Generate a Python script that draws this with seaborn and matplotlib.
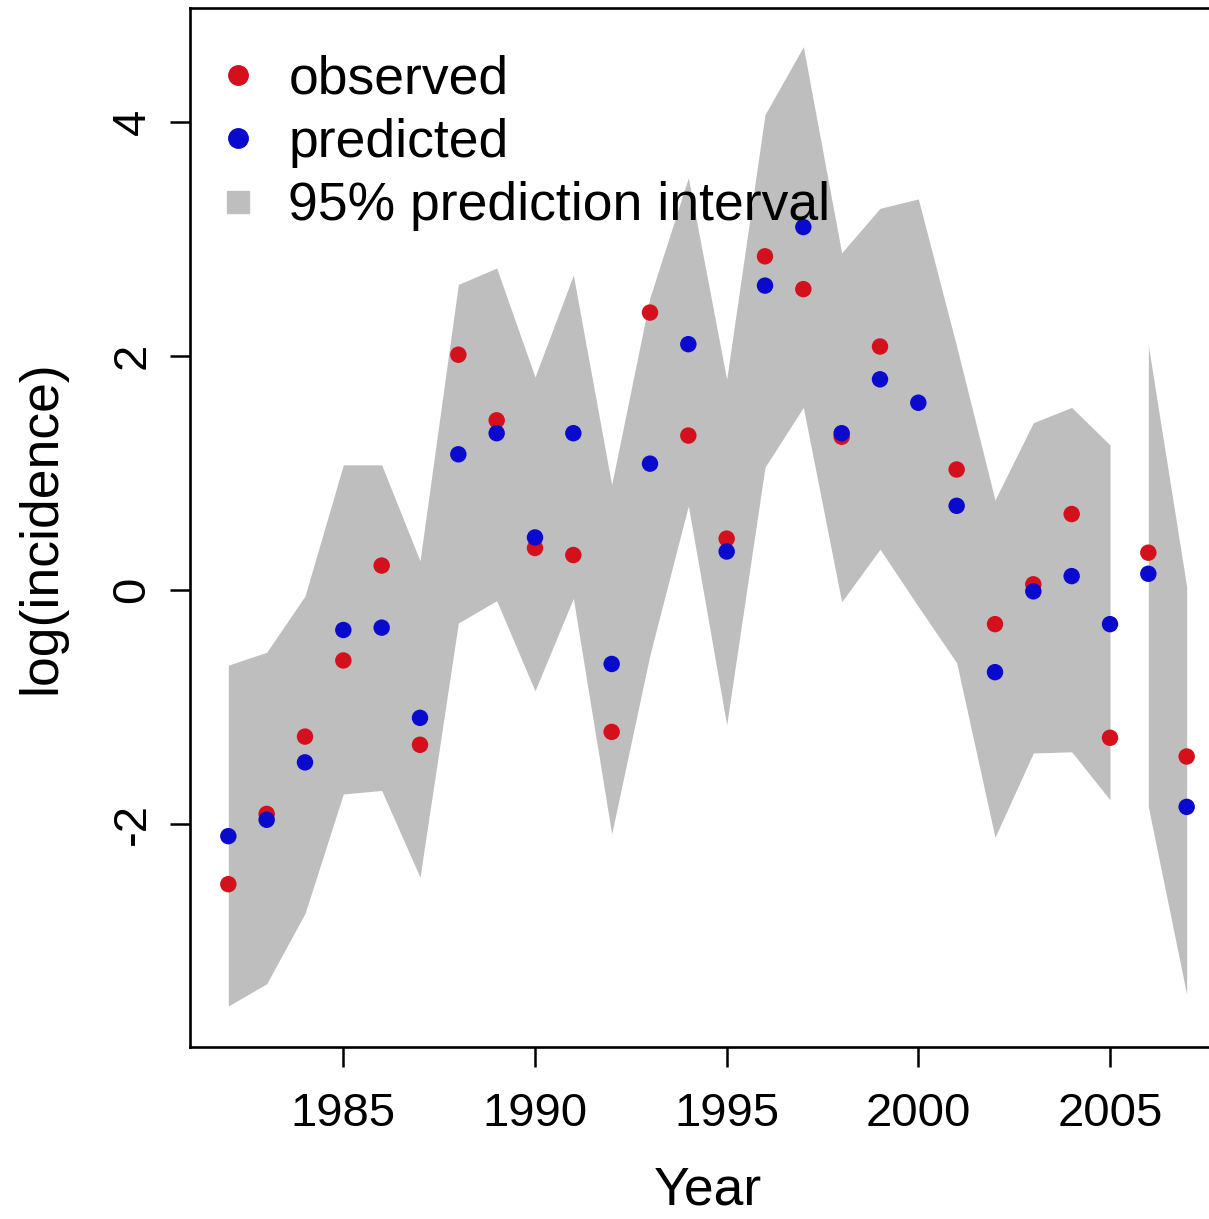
import numpy as np
import pandas as pd
import matplotlib
matplotlib.use("Agg")
import matplotlib.pyplot as plt
import seaborn as sns
from matplotlib.lines import Line2D

# ---- data ----
years = [1982, 1983, 1984, 1985, 1986, 1987, 1988, 1989, 1990, 1991, 1992, 1993, 1994,
         1995, 1996, 1997, 1998, 1999, 2000, 2001, 2002, 2003, 2004, 2005, 2006, 2007]
observed = [-2.51, -1.91, -1.25, -0.60, 0.21, -1.32, 2.01, 1.45, 0.36, 0.30, -1.21, 2.37, 1.32,
            0.44, 2.85, 2.57, 1.31, 2.08, np.nan, 1.03, -0.29, 0.05, 0.65, -1.26, 0.32, -1.42]
predicted = [-2.10, -1.96, -1.47, -0.34, -0.32, -1.09, 1.16, 1.34, 0.45, 1.34, -0.63, 1.08, 2.10,
             0.33, 2.60, 3.10, 1.34, 1.80, 1.60, 0.72, -0.70, -0.01, 0.12, -0.29, 0.14, -1.85]
upper = [-0.64, -0.53, -0.05, 1.07, 1.07, 0.25, 2.61, 2.75, 1.82, 2.69, 0.90, 2.50, 3.52,
         1.80, 4.06, 4.64, 2.88, 3.26, 3.34, 2.08, 0.77, 1.43, 1.56, 1.24, 2.09, 0.03]
lower = [-3.55, -3.36, -2.76, -1.74, -1.71, -2.45, -0.28, -0.09, -0.86, -0.07, -2.08, -0.55, 0.72,
         -1.15, 1.05, 1.56, -0.10, 0.35, -0.14, -0.62, -2.11, -1.39, -1.38, -1.79, -1.85, -3.45]
x_ticks = [1985, 1990, 1995, 2000, 2005]
y_ticks = [-2, 0, 2, 4]
legend_labels = ["observed", "predicted", "95% prediction interval"]

RED = "#D4101C"
BLUE = "#0A0ACF"
GREY = "#BEBEBE"

sns.set_theme(style="ticks")
plt.rcParams['font.family'] = ['Liberation Sans', 'DejaVu Sans']
plt.rcParams['axes.unicode_minus'] = False
plt.rcParams['text.color'] = 'black'
plt.rcParams['axes.labelcolor'] = 'black'
plt.rcParams['xtick.color'] = 'black'
plt.rcParams['ytick.color'] = 'black'

fig = plt.figure(figsize=(12.09, 12.19), dpi=100)
fig.patch.set_facecolor("white")
ax = fig.add_axes([190 / 1209, 1 - 1047 / 1219, 1035 / 1209, 1039 / 1219])
ax.set_facecolor("white")

yr = np.array(years)
up = np.array(upper)
lo = np.array(lower)
for seg in (yr <= 2005, yr >= 2006):
    ax.fill_between(yr[seg], lo[seg], up[seg], color=GREY, linewidth=0, zorder=1)

df = pd.DataFrame({
    "Year": years * 2,
    "value": observed + predicted,
    "kind": ["observed"] * len(years) + ["predicted"] * len(years),
})
sns.scatterplot(data=df, x="Year", y="value", hue="kind",
                palette={"observed": RED, "predicted": BLUE},
                s=140, linewidth=0, legend=False, ax=ax, zorder=3)

ax.set_xlim(1981, 2008)
ax.set_ylim(-3.9, 4.97)
ax.set_xticks(x_ticks)
ax.set_xticklabels([str(t) for t in x_ticks])
ax.set_yticks(y_ticks)
ax.set_yticklabels([str(t) for t in y_ticks], rotation=90, va="center")

ax.tick_params(axis="both", which="major", direction="out", length=14.5, width=1.8,
               labelsize=34, colors="black", bottom=True, left=True)
ax.tick_params(axis="x", pad=18)
ax.tick_params(axis="y", pad=11)
for sp in ax.spines.values():
    sp.set_visible(True)
    sp.set_color("black")
    sp.set_linewidth(1.9)

ax.set_xlabel("Year", fontsize=38.5, labelpad=21, color="black")
ax.set_ylabel("log(incidence)", fontsize=38.5, labelpad=32, color="black")

handles = [
    Line2D([], [], marker="o", ls="", color=RED, markersize=14),
    Line2D([], [], marker="o", ls="", color=BLUE, markersize=14),
    Line2D([], [], marker="s", ls="", color=GREY, markersize=16),
]
leg = ax.legend(handles, legend_labels, loc="upper left", bbox_to_anchor=(0.033, 0.955),
                frameon=False, fontsize=38.5, borderpad=0, borderaxespad=0, handlelength=0.5,
                handletextpad=0.7, labelspacing=0.25)
for t in leg.get_texts():
    t.set_color("black")

fig.savefig("out.png", dpi=100, facecolor="white")
